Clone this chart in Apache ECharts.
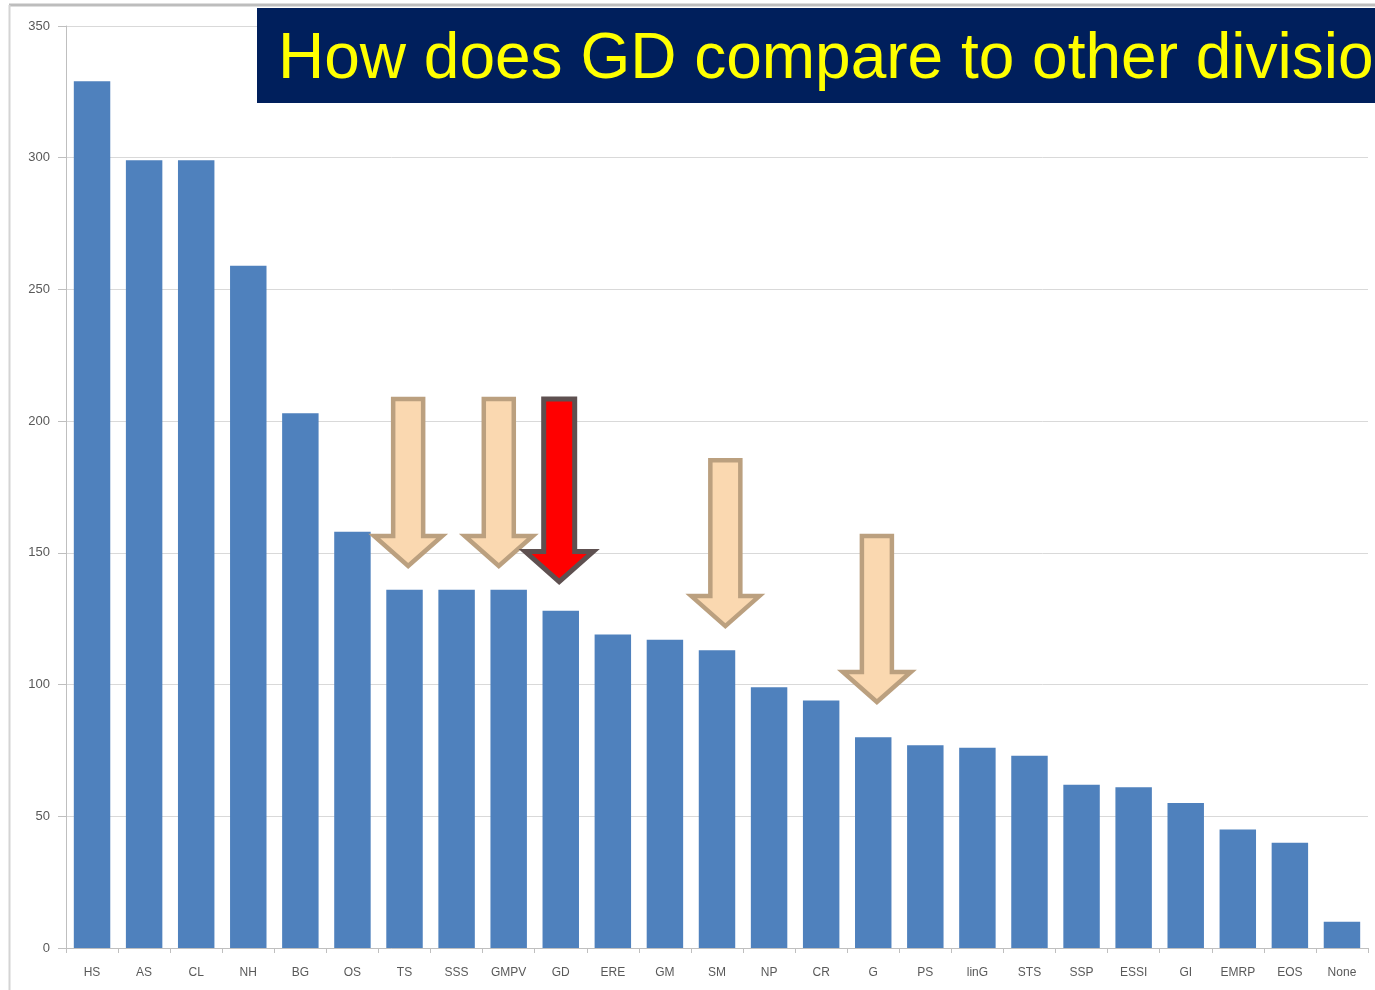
<!DOCTYPE html>
<html>
<head>
<meta charset="utf-8">
<script src="https://cdn.jsdelivr.net/npm/echarts@6/dist/echarts.min.js"></script>
<style>
html,body{margin:0;padding:0;background:#fff;}
#chart{width:1375px;height:990px;}
</style>
</head>
<body>
<div id="chart"></div>
<script>
const categories = ['HS','AS','CL','NH','BG','OS','TS','SSS','GMPV','GD','ERE','GM','SM','NP','CR','G','PS','linG','STS','SSP','ESSI','GI','EMRP','EOS','None'];
const values = [329,299,299,259,203,158,136,136,136,128,119,117,113,99,94,80,77,76,73,62,61,55,45,40,10];
const yTicks = [0,50,100,150,200,250,300,350];
const titleText = 'How does GD compare to other divisio';
// arrow annotations: category, value at top of arrow, value at tip, highlighted (1) or not (0),
// horizontal shift from the category centre in fractions of a category
const arrowCats = ['TS','GMPV','GD','SM','G'];
const arrowTops = [208.4,208.4,208.4,185.2,156.4];
const arrowTips = [145.0,145.0,139.1,122.2,93.4];
const arrowHighlight = [0,0,1,0,0];
const arrowShift = [0.07,-0.19,-0.03,0.16,0.07];

const arrowData = arrowCats.map((c,i)=>[c, arrowTops[i], arrowTips[i], arrowHighlight[i], arrowShift[i]]);

const chart = echarts.init(document.getElementById('chart'), null, {renderer:'canvas'});
chart.setOption({
  animation:false,
  backgroundColor:'#ffffff',
  grid:{left:66,right:7,top:26,bottom:42,containLabel:false},
  xAxis:{
    type:'category',
    data:categories,
    axisLine:{lineStyle:{color:'#BFBFBF',width:1}},
    axisTick:{show:true,alignWithLabel:false,length:5,lineStyle:{color:'#BFBFBF'}},
    axisLabel:{interval:0,color:'#595959',fontSize:12,fontFamily:'Liberation Sans',margin:19}
  },
  yAxis:{
    type:'value',
    min:yTicks[0],max:yTicks[yTicks.length-1],interval:50,
    axisLine:{show:true,lineStyle:{color:'#BFBFBF',width:1}},
    axisTick:{show:true,length:8,lineStyle:{color:'#BFBFBF'}},
    axisLabel:{color:'#595959',fontSize:13,fontFamily:'Liberation Sans',margin:16},
    splitLine:{show:true,lineStyle:{color:'#D9D9D9',width:1}}
  },
  series:[
    {
      type:'bar',
      data:values,
      barCategoryGap:'30%',
      itemStyle:{color:'#4F81BD'},
      z:2
    },
    {
      type:'custom',
      data:arrowData,
      clip:false,
      z:5,
      encode:{x:0,y:[1,2]},
      renderItem:function(params, api){
        const top = api.coord([api.value(0), api.value(1)]);
        const tip = api.coord([api.value(0), api.value(2)]);
        const bw = api.size([1,0])[0];
        const red = api.value(3) === 1;
        const sw = red ? 15.5 : 15;
        const hw = 34, hl = 30;
        const cx = top[0] + api.value(4) * bw, y0 = top[1], y1 = tip[1];
        const pts = [[cx-sw,y0],[cx+sw,y0],[cx+sw,y1-hl],[cx+hw,y1-hl],[cx,y1],[cx-hw,y1-hl],[cx-sw,y1-hl]];
        return {
          type:'polygon',
          shape:{points:pts},
          style:{
            fill: red ? '#FF0000' : '#FAD8B0',
            stroke: red ? '#5E5050' : '#BBA07F',
            lineWidth: red ? 5 : 4.5,
            lineJoin:'miter'
          }
        };
      }
    }
  ],
  graphic:[
    {type:'line',shape:{x1:9,y1:5,x2:1375,y2:5},style:{stroke:'#BDBDBD',lineWidth:3},z:10},
    {type:'line',shape:{x1:9.5,y1:5,x2:9.5,y2:990},style:{stroke:'#D4D4D4',lineWidth:2},z:10},
    {type:'rect',shape:{x:257,y:8,width:1118,height:95},style:{fill:'#001F5C'},z:20},
    {type:'text',x:278,y:60,z:21,style:{text:titleText,fill:'#FFFF00',font:'64px "Liberation Sans", Arial, sans-serif',textVerticalAlign:'middle',textAlign:'left'}}
  ]
});
</script>
</body>
</html>
